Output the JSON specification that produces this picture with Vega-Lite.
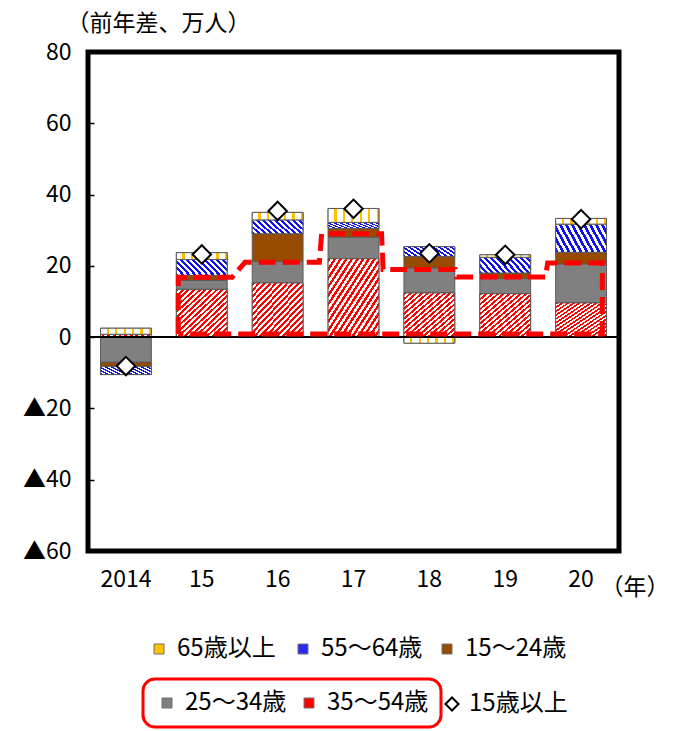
{
  "$schema": "https://vega.github.io/schema/vega-lite/v6.json",
  "width": 531,
  "height": 499,
  "autosize": {"type": "none"},
  "padding": {"left": 88, "top": 52, "right": 64, "bottom": 180},
  "config": {
    "font": "Noto Sans CJK JP",
    "view": {"stroke": "#000000", "strokeWidth": 5},
    "axis": {
      "grid": false,
      "domain": false,
      "labelColor": "#000000",
      "titleColor": "#000000",
      "labelFont": "Noto Sans CJK JP",
      "titleFont": "Noto Sans CJK JP",
      "labelFontSize": 23,
      "titleFontSize": 23,
      "titleFontWeight": "normal"
    },
    "legend": {
      "labelFont": "Noto Sans CJK JP",
      "labelFontSize": 24,
      "labelColor": "#000000",
      "symbolSize": 100,
      "symbolStrokeColor": "#707070",
      "symbolStrokeWidth": 1,
      "labelOffset": 6
    }
  },
  "datasets": {
    "bars": [
      {"year": 2014, "group": "65歳以上", "value": 1.7},
      {"year": 2014, "group": "55～64歳", "value": -2.3},
      {"year": 2014, "group": "15～24歳", "value": -1.2},
      {"year": 2014, "group": "25～34歳", "value": -7.0},
      {"year": 2014, "group": "35～54歳", "value": 0.8},
      {"year": 2015, "group": "65歳以上", "value": 1.9},
      {"year": 2015, "group": "55～64歳", "value": 4.5},
      {"year": 2015, "group": "15～24歳", "value": 1.4},
      {"year": 2015, "group": "25～34歳", "value": 2.5},
      {"year": 2015, "group": "35～54歳", "value": 13.4},
      {"year": 2016, "group": "65歳以上", "value": 2.1},
      {"year": 2016, "group": "55～64歳", "value": 3.9},
      {"year": 2016, "group": "15～24歳", "value": 7.8},
      {"year": 2016, "group": "25～34歳", "value": 6.0},
      {"year": 2016, "group": "35～54歳", "value": 15.2},
      {"year": 2017, "group": "65歳以上", "value": 3.9},
      {"year": 2017, "group": "55～64歳", "value": 1.7},
      {"year": 2017, "group": "15～24歳", "value": 2.5},
      {"year": 2017, "group": "25～34歳", "value": 6.0},
      {"year": 2017, "group": "35～54歳", "value": 22.0},
      {"year": 2018, "group": "65歳以上", "value": -1.7},
      {"year": 2018, "group": "55～64歳", "value": 2.8},
      {"year": 2018, "group": "15～24歳", "value": 3.2},
      {"year": 2018, "group": "25～34歳", "value": 7.0},
      {"year": 2018, "group": "35～54歳", "value": 12.4},
      {"year": 2019, "group": "65歳以上", "value": 0.7},
      {"year": 2019, "group": "55～64歳", "value": 4.4},
      {"year": 2019, "group": "15～24歳", "value": 1.6},
      {"year": 2019, "group": "25～34歳", "value": 4.2},
      {"year": 2019, "group": "35～54歳", "value": 12.2},
      {"year": 2020, "group": "65歳以上", "value": 1.6},
      {"year": 2020, "group": "55～64歳", "value": 7.9},
      {"year": 2020, "group": "15～24歳", "value": 3.3},
      {"year": 2020, "group": "25～34歳", "value": 10.9},
      {"year": 2020, "group": "35～54歳", "value": 9.6}
    ],
    "totals": [
      {"year": 2014, "group": "15歳以上", "value": -8.1},
      {"year": 2015, "group": "15歳以上", "value": 23.2},
      {"year": 2016, "group": "15歳以上", "value": 35.4},
      {"year": 2017, "group": "15歳以上", "value": 36.0},
      {"year": 2018, "group": "15歳以上", "value": 23.5},
      {"year": 2019, "group": "15歳以上", "value": 23.1},
      {"year": 2020, "group": "15歳以上", "value": 33.1}
    ],
    "outline": [
      {"ox": 1.19, "oy": 0.9},
      {"ox": 1.19, "oy": 16.8},
      {"ox": 1.9, "oy": 16.8},
      {"ox": 2.07, "oy": 21.0},
      {"ox": 3.05, "oy": 21.0},
      {"ox": 3.08, "oy": 29.0},
      {"ox": 3.87, "oy": 29.0},
      {"ox": 3.89, "oy": 19.0},
      {"ox": 4.84, "oy": 19.0},
      {"ox": 4.86, "oy": 16.9},
      {"ox": 6.03, "oy": 16.9},
      {"ox": 6.06, "oy": 20.8},
      {"ox": 6.78, "oy": 20.8},
      {"ox": 6.78, "oy": 0.9},
      {"ox": 1.19, "oy": 0.9}
    ]
  },
  "layer": [
    {
      "data": {"name": "bars"},
      "transform": [
        {"calculate": "indexof(['35～54歳', '25～34歳', '15～24歳', '55～64歳', '65歳以上'], datum.group)", "as": "stackRank"},
        {"stack": "value", "groupby": ["year"], "sort": [{"field": "stackRank", "order": "ascending"}], "as": ["v0", "v1"]}
      ],
      "encoding": {
        "x": {
          "field": "year",
          "type": "ordinal",
          "scale": {"paddingInner": 0.33, "paddingOuter": 0.165},
          "axis": {
            "labelAngle": 0,
            "ticks": false,
            "labelPadding": 17,
            "labelExpr": "datum.value == 2014 ? '2014' : substring('' + datum.value, 2)",
            "title": "（年）",
            "titleAlign": "left",
            "titleBaseline": "middle",
            "titleX": 512,
            "titleY": 36
          }
        }
      },
      "layer": [
        {
          "transform": [{"filter": "datum.stackRank >= 2"}],
          "mark": {"type": "bar", "stroke": "#5a5a5a", "strokeWidth": 1},
          "encoding": {
            "y": {
              "field": "v1",
              "type": "quantitative",
              "title": "（前年差、万人）",
              "scale": {"domain": [-60, 80], "nice": false},
              "axis": {
                "values": [-60, -40, -20, 0, 20, 40, 60, 80],
                "labelExpr": "datum.value < 0 ? '▲' + (-datum.value) : '' + datum.value",
                "labelPadding": 23,
                "ticks": true,
                "tickSize": -6,
                "tickColor": "#000000",
                "tickWidth": 1.5,
                "titleAngle": 0,
                "titleAlign": "left",
                "titleBaseline": "middle",
                "titleX": -22,
                "titleY": -29
              }
            },
            "y2": {"field": "v0"},
            "color": {
              "field": "group",
              "type": "nominal",
              "scale": {
                "domain": ["65歳以上", "55～64歳", "15～24歳"],
                "range": ["#FFC000", "#2A2AF5", "#964B00"]
              },
              "legend": {
                "title": null,
                "orient": "none",
                "direction": "horizontal",
                "symbolType": "square",
                "columns": 3,
                "columnPadding": 12,
                "gridAlign": "all",
                "padding": 0,
                "legendX": 59,
                "legendY": 585
              }
            }
          }
        },
        {
          "transform": [{"filter": "datum.stackRank < 2"}],
          "mark": {"type": "bar", "stroke": "#5a5a5a", "strokeWidth": 1},
          "encoding": {
            "y": {"field": "v1", "type": "quantitative", "title": "（前年差、万人）"},
            "y2": {"field": "v0"},
            "fill": {
              "field": "group",
              "type": "nominal",
              "scale": {"domain": ["25～34歳", "35～54歳"], "range": ["#808080", "#FF0000"]},
              "legend": {
                "title": null,
                "orient": "none",
                "direction": "horizontal",
                "symbolType": "square",
                "columns": 2,
                "columnPadding": 10,
                "gridAlign": "all",
                "padding": 12,
                "legendX": 55,
                "legendY": 627,
                "encode": {
                  "legend": {
                    "update": {
                      "stroke": {"value": "#FF0000"},
                      "strokeWidth": {"value": 3},
                      "cornerRadius": {"value": 12}
                    }
                  }
                }
              }
            }
          }
        },
        {
          "transform": [{"filter": "datum.group === '35～54歳'"}],
          "mark": {
            "type": "bar",
            "stroke": "#5a5a5a",
            "strokeWidth": 1,
            "fill": {
              "gradient": "linear",
              "x1": 0, "y1": 0, "x2": 1, "y2": 1,
              "stops": [
                {"offset": 0, "color": "#FF0000"}, {"offset": 0.0278, "color": "#FF0000"}, {"offset": 0.0278, "color": "#FFFFFF"}, {"offset": 0.0556, "color": "#FFFFFF"},
                {"offset": 0.0556, "color": "#FF0000"}, {"offset": 0.0833, "color": "#FF0000"}, {"offset": 0.0833, "color": "#FFFFFF"}, {"offset": 0.1111, "color": "#FFFFFF"},
                {"offset": 0.1111, "color": "#FF0000"}, {"offset": 0.1389, "color": "#FF0000"}, {"offset": 0.1389, "color": "#FFFFFF"}, {"offset": 0.1667, "color": "#FFFFFF"},
                {"offset": 0.1667, "color": "#FF0000"}, {"offset": 0.1944, "color": "#FF0000"}, {"offset": 0.1944, "color": "#FFFFFF"}, {"offset": 0.2222, "color": "#FFFFFF"},
                {"offset": 0.2222, "color": "#FF0000"}, {"offset": 0.25, "color": "#FF0000"}, {"offset": 0.25, "color": "#FFFFFF"}, {"offset": 0.2778, "color": "#FFFFFF"},
                {"offset": 0.2778, "color": "#FF0000"}, {"offset": 0.3056, "color": "#FF0000"}, {"offset": 0.3056, "color": "#FFFFFF"}, {"offset": 0.3333, "color": "#FFFFFF"},
                {"offset": 0.3333, "color": "#FF0000"}, {"offset": 0.3611, "color": "#FF0000"}, {"offset": 0.3611, "color": "#FFFFFF"}, {"offset": 0.3889, "color": "#FFFFFF"},
                {"offset": 0.3889, "color": "#FF0000"}, {"offset": 0.4167, "color": "#FF0000"}, {"offset": 0.4167, "color": "#FFFFFF"}, {"offset": 0.4444, "color": "#FFFFFF"},
                {"offset": 0.4444, "color": "#FF0000"}, {"offset": 0.4722, "color": "#FF0000"}, {"offset": 0.4722, "color": "#FFFFFF"}, {"offset": 0.5, "color": "#FFFFFF"},
                {"offset": 0.5, "color": "#FF0000"}, {"offset": 0.5278, "color": "#FF0000"}, {"offset": 0.5278, "color": "#FFFFFF"}, {"offset": 0.5556, "color": "#FFFFFF"},
                {"offset": 0.5556, "color": "#FF0000"}, {"offset": 0.5833, "color": "#FF0000"}, {"offset": 0.5833, "color": "#FFFFFF"}, {"offset": 0.6111, "color": "#FFFFFF"},
                {"offset": 0.6111, "color": "#FF0000"}, {"offset": 0.6389, "color": "#FF0000"}, {"offset": 0.6389, "color": "#FFFFFF"}, {"offset": 0.6667, "color": "#FFFFFF"},
                {"offset": 0.6667, "color": "#FF0000"}, {"offset": 0.6944, "color": "#FF0000"}, {"offset": 0.6944, "color": "#FFFFFF"}, {"offset": 0.7222, "color": "#FFFFFF"},
                {"offset": 0.7222, "color": "#FF0000"}, {"offset": 0.75, "color": "#FF0000"}, {"offset": 0.75, "color": "#FFFFFF"}, {"offset": 0.7778, "color": "#FFFFFF"},
                {"offset": 0.7778, "color": "#FF0000"}, {"offset": 0.8056, "color": "#FF0000"}, {"offset": 0.8056, "color": "#FFFFFF"}, {"offset": 0.8333, "color": "#FFFFFF"},
                {"offset": 0.8333, "color": "#FF0000"}, {"offset": 0.8611, "color": "#FF0000"}, {"offset": 0.8611, "color": "#FFFFFF"}, {"offset": 0.8889, "color": "#FFFFFF"},
                {"offset": 0.8889, "color": "#FF0000"}, {"offset": 0.9167, "color": "#FF0000"}, {"offset": 0.9167, "color": "#FFFFFF"}, {"offset": 0.9444, "color": "#FFFFFF"},
                {"offset": 0.9444, "color": "#FF0000"}, {"offset": 0.9722, "color": "#FF0000"}, {"offset": 0.9722, "color": "#FFFFFF"}, {"offset": 1, "color": "#FFFFFF"}
              ]
            }
          },
          "encoding": {
            "y": {"field": "v1", "type": "quantitative", "title": "（前年差、万人）"},
            "y2": {"field": "v0"}
          }
        },
        {
          "transform": [{"filter": "datum.group === '55～64歳'"}],
          "mark": {
            "type": "bar",
            "stroke": "#5a5a5a",
            "strokeWidth": 1,
            "fill": {
              "gradient": "linear",
              "x1": 0, "y1": 1, "x2": 1.3, "y2": 0.61,
              "stops": [
                {"offset": 0, "color": "#1010F0"}, {"offset": 0.0417, "color": "#1010F0"}, {"offset": 0.0417, "color": "#FFFFFF"}, {"offset": 0.0833, "color": "#FFFFFF"},
                {"offset": 0.0833, "color": "#1010F0"}, {"offset": 0.125, "color": "#1010F0"}, {"offset": 0.125, "color": "#FFFFFF"}, {"offset": 0.1667, "color": "#FFFFFF"},
                {"offset": 0.1667, "color": "#1010F0"}, {"offset": 0.2083, "color": "#1010F0"}, {"offset": 0.2083, "color": "#FFFFFF"}, {"offset": 0.25, "color": "#FFFFFF"},
                {"offset": 0.25, "color": "#1010F0"}, {"offset": 0.2917, "color": "#1010F0"}, {"offset": 0.2917, "color": "#FFFFFF"}, {"offset": 0.3333, "color": "#FFFFFF"},
                {"offset": 0.3333, "color": "#1010F0"}, {"offset": 0.375, "color": "#1010F0"}, {"offset": 0.375, "color": "#FFFFFF"}, {"offset": 0.4167, "color": "#FFFFFF"},
                {"offset": 0.4167, "color": "#1010F0"}, {"offset": 0.4583, "color": "#1010F0"}, {"offset": 0.4583, "color": "#FFFFFF"}, {"offset": 0.5, "color": "#FFFFFF"},
                {"offset": 0.5, "color": "#1010F0"}, {"offset": 0.5417, "color": "#1010F0"}, {"offset": 0.5417, "color": "#FFFFFF"}, {"offset": 0.5833, "color": "#FFFFFF"},
                {"offset": 0.5833, "color": "#1010F0"}, {"offset": 0.625, "color": "#1010F0"}, {"offset": 0.625, "color": "#FFFFFF"}, {"offset": 0.6667, "color": "#FFFFFF"},
                {"offset": 0.6667, "color": "#1010F0"}, {"offset": 0.7083, "color": "#1010F0"}, {"offset": 0.7083, "color": "#FFFFFF"}, {"offset": 0.75, "color": "#FFFFFF"},
                {"offset": 0.75, "color": "#1010F0"}, {"offset": 0.7917, "color": "#1010F0"}, {"offset": 0.7917, "color": "#FFFFFF"}, {"offset": 0.8333, "color": "#FFFFFF"},
                {"offset": 0.8333, "color": "#1010F0"}, {"offset": 0.875, "color": "#1010F0"}, {"offset": 0.875, "color": "#FFFFFF"}, {"offset": 0.9167, "color": "#FFFFFF"},
                {"offset": 0.9167, "color": "#1010F0"}, {"offset": 0.9583, "color": "#1010F0"}, {"offset": 0.9583, "color": "#FFFFFF"}, {"offset": 1, "color": "#FFFFFF"}
              ]
            }
          },
          "encoding": {
            "y": {"field": "v1", "type": "quantitative", "title": "（前年差、万人）"},
            "y2": {"field": "v0"}
          }
        },
        {
          "transform": [{"filter": "datum.group === '65歳以上'"}],
          "mark": {
            "type": "bar",
            "stroke": "#5a5a5a",
            "strokeWidth": 1,
            "fill": {
              "gradient": "linear",
              "x1": 0, "y1": 0, "x2": 1, "y2": 0,
              "stops": [
                {"offset": 0, "color": "#FFFFFF"}, {"offset": 0.12, "color": "#FFFFFF"}, {"offset": 0.12, "color": "#FFC000"}, {"offset": 0.1667, "color": "#FFC000"},
                {"offset": 0.1667, "color": "#FFFFFF"}, {"offset": 0.2867, "color": "#FFFFFF"}, {"offset": 0.2867, "color": "#FFC000"}, {"offset": 0.3333, "color": "#FFC000"},
                {"offset": 0.3333, "color": "#FFFFFF"}, {"offset": 0.4533, "color": "#FFFFFF"}, {"offset": 0.4533, "color": "#FFC000"}, {"offset": 0.5, "color": "#FFC000"},
                {"offset": 0.5, "color": "#FFFFFF"}, {"offset": 0.62, "color": "#FFFFFF"}, {"offset": 0.62, "color": "#FFC000"}, {"offset": 0.6667, "color": "#FFC000"},
                {"offset": 0.6667, "color": "#FFFFFF"}, {"offset": 0.7867, "color": "#FFFFFF"}, {"offset": 0.7867, "color": "#FFC000"}, {"offset": 0.8333, "color": "#FFC000"},
                {"offset": 0.8333, "color": "#FFFFFF"}, {"offset": 0.9533, "color": "#FFFFFF"}, {"offset": 0.9533, "color": "#FFC000"}, {"offset": 1, "color": "#FFC000"}
              ]
            }
          },
          "encoding": {
            "y": {"field": "v1", "type": "quantitative", "title": "（前年差、万人）"},
            "y2": {"field": "v0"}
          }
        },
        {
          "mark": {"type": "rule", "color": "#000000", "strokeWidth": 1.5},
          "encoding": {
            "x": null,
            "y": {"datum": 0, "type": "quantitative", "title": "（前年差、万人）"}
          }
        },
        {
          "data": {"name": "totals"},
          "mark": {"type": "point", "shape": "diamond", "filled": false, "fill": "#FFFFFF", "fillOpacity": 1, "strokeWidth": 2, "size": 340, "opacity": 1},
          "encoding": {
            "y": {"field": "value", "type": "quantitative", "title": "（前年差、万人）"},
            "stroke": {
              "field": "group",
              "type": "nominal",
              "scale": {"domain": ["15歳以上"], "range": ["#000000"]},
              "legend": {
                "title": null,
                "orient": "none",
                "padding": 0,
                "legendX": 352,
                "legendY": 640,
                "symbolType": "diamond",
                "symbolSize": 170,
                "symbolFillColor": "#FFFFFF",
                "symbolStrokeWidth": 2,
                "symbolOpacity": 1,
                "labelOffset": 5
              }
            }
          }
        }
      ]
    },
    {
      "data": {"name": "outline"},
      "mark": {"type": "line", "color": "#FF0000", "strokeWidth": 5, "strokeDash": [17, 7], "strokeCap": "butt"},
      "encoding": {
        "x": {"field": "ox", "type": "quantitative", "scale": {"domain": [0, 7], "nice": false, "zero": false}, "axis": null},
        "y": {"field": "oy", "type": "quantitative", "title": "（前年差、万人）"},
        "order": {"value": null}
      }
    }
  ],
  "resolve": {"scale": {"x": "independent"}}
}
